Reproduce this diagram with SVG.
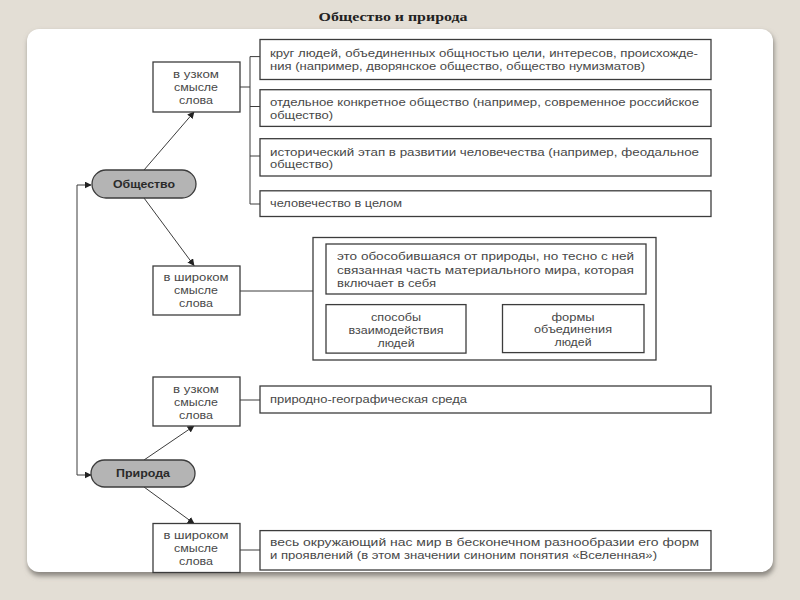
<svg xmlns="http://www.w3.org/2000/svg" width="800" height="600" viewBox="0 0 800 600">
<defs>
<style>
.t{font-family:"Liberation Sans","DejaVu Sans",sans-serif;font-size:10.5px;fill:#484848;}
.c{text-anchor:middle;}
.b{fill:#fff;stroke:#3c3c3c;stroke-width:1.3;}
.ln{fill:none;stroke:#3c3c3c;stroke-width:1;}
.ov{fill:#b4b4b4;stroke:#3c3c3c;stroke-width:1.3;}
.ot{font-family:"Liberation Sans","DejaVu Sans",sans-serif;font-size:11.5px;font-weight:bold;fill:#2a2a2a;text-anchor:middle;}
</style>
<marker id="ar" viewBox="0 0 10 10" refX="9" refY="5" markerWidth="7" markerHeight="7" markerUnits="userSpaceOnUse" orient="auto">
<path d="M0,0 L10,5 L0,10 z" fill="#222"/>
</marker>
<filter id="sh" x="-5%" y="-5%" width="110%" height="110%">
<feGaussianBlur stdDeviation="2.5"/>
</filter>
</defs>
<rect x="0" y="0" width="800" height="600" fill="#e3ded5"/>
<text x="393" y="21" text-anchor="middle" textLength="149" lengthAdjust="spacingAndGlyphs" font-family="'Liberation Serif',serif" font-weight="bold" font-size="13" fill="#222">Общество и природа</text>
<rect x="28" y="32" width="746" height="544" rx="12" fill="#8a8680" filter="url(#sh)"/>
<rect x="27" y="29" width="746" height="543" rx="12" fill="#ffffff"/>

<g id="connectors">
<polyline class="ln" points="240,87 250,87"/>
<polyline class="ln" points="260,56.6 250,56.6 250,204 260,204"/>
<polyline class="ln" points="250,106.5 260,106.5"/>
<polyline class="ln" points="250,156 260,156"/>
<polyline class="ln" points="240,291 313,291"/>
<polyline class="ln" points="240,400 260,400"/>
<polyline class="ln" points="240,550 260,550"/>
<line class="ln" x1="144" y1="170" x2="194" y2="112" marker-end="url(#ar)"/>
<line class="ln" x1="144" y1="198" x2="194" y2="265.5" marker-end="url(#ar)"/>
<line class="ln" x1="144" y1="460" x2="194" y2="426" marker-end="url(#ar)"/>
<line class="ln" x1="144" y1="487" x2="194" y2="523.5" marker-end="url(#ar)"/>
<path class="ln" d="M77,330 V185 H91" marker-end="url(#ar)"/>
<path class="ln" d="M77,330 V475 H91" marker-end="url(#ar)"/>
<line class="ln" x1="474" y1="294" x2="398" y2="303.5" marker-end="url(#ar)"/>
<line class="ln" x1="500" y1="294" x2="574" y2="303.5" marker-end="url(#ar)"/>
</g>

<g id="obshchestvo">
<rect class="ov" x="92" y="170" width="104" height="28" rx="14"/>
<text class="ot" x="144" y="188" textLength="62" lengthAdjust="spacingAndGlyphs">Общество</text>
</g>
<g id="priroda">
<rect class="ov" x="91" y="460" width="104" height="27" rx="13.5"/>
<text class="ot" x="143" y="477" textLength="54" lengthAdjust="spacingAndGlyphs">Природа</text>
</g>

<g id="o-narrow">
<rect class="b" x="153" y="62" width="87" height="50"/>
<text class="t c" x="196" y="78" textLength="46" lengthAdjust="spacingAndGlyphs">в узком</text>
<text class="t c" x="196" y="91" textLength="44" lengthAdjust="spacingAndGlyphs">смысле</text>
<text class="t c" x="196" y="104" textLength="34" lengthAdjust="spacingAndGlyphs">слова</text>
</g>
<g id="o-n1">
<rect class="b" x="260" y="39.5" width="451" height="40"/>
<text class="t" x="270" y="57" textLength="428" lengthAdjust="spacingAndGlyphs">круг людей, объединенных общностью цели, интересов, происхожде-</text>
<text class="t" x="270" y="69.5" textLength="375" lengthAdjust="spacingAndGlyphs">ния (например, дворянское общество, общество нумизматов)</text>
</g>
<g id="o-n2">
<rect class="b" x="260" y="89.7" width="451" height="36.7"/>
<text class="t" x="270" y="106" textLength="429" lengthAdjust="spacingAndGlyphs">отдельное конкретное общество (например, современное российское</text>
<text class="t" x="270" y="118.5" textLength="63" lengthAdjust="spacingAndGlyphs">общество)</text>
</g>
<g id="o-n3">
<rect class="b" x="260" y="138.7" width="451" height="37.3"/>
<text class="t" x="270" y="156" textLength="429" lengthAdjust="spacingAndGlyphs">исторический этап в развитии человечества (например, феодальное</text>
<text class="t" x="270" y="168.3" textLength="63" lengthAdjust="spacingAndGlyphs">общество)</text>
</g>
<g id="o-n4">
<rect class="b" x="260" y="190.8" width="451" height="25.7"/>
<text class="t" x="270" y="207.3" textLength="132" lengthAdjust="spacingAndGlyphs">человечество в целом</text>
</g>

<g id="o-wide">
<rect class="b" x="153" y="266" width="87" height="49"/>
<text class="t c" x="196" y="281" textLength="65" lengthAdjust="spacingAndGlyphs">в широком</text>
<text class="t c" x="196" y="294" textLength="44" lengthAdjust="spacingAndGlyphs">смысле</text>
<text class="t c" x="196" y="307" textLength="34" lengthAdjust="spacingAndGlyphs">слова</text>
</g>
<g id="o-wide-frame">
<rect class="b" x="313" y="237.5" width="343" height="122.5"/>
</g>
<g id="o-wide-def">
<rect class="b" x="326" y="244" width="320" height="50"/>
<text class="t" x="337" y="260" textLength="297" lengthAdjust="spacingAndGlyphs">это обособившаяся от природы, но тесно с ней</text>
<text class="t" x="337" y="273.8" textLength="297" lengthAdjust="spacingAndGlyphs">связанная часть материального мира, которая</text>
<text class="t" x="337" y="286.8" textLength="99" lengthAdjust="spacingAndGlyphs">включает в себя</text>
</g>
<g id="o-wide-ways">
<rect class="b" x="326" y="304.6" width="140" height="48.5"/>
<text class="t c" x="396" y="320.5" textLength="50" lengthAdjust="spacingAndGlyphs">способы</text>
<text class="t c" x="396" y="333.5" textLength="95" lengthAdjust="spacingAndGlyphs">взаимодействия</text>
<text class="t c" x="396" y="347" textLength="37" lengthAdjust="spacingAndGlyphs">людей</text>
</g>
<g id="o-wide-forms">
<rect class="b" x="502.5" y="304.6" width="141.5" height="48"/>
<text class="t c" x="573" y="320.5" textLength="43" lengthAdjust="spacingAndGlyphs">формы</text>
<text class="t c" x="573" y="332.6" textLength="78" lengthAdjust="spacingAndGlyphs">объединения</text>
<text class="t c" x="573" y="346" textLength="37" lengthAdjust="spacingAndGlyphs">людей</text>
</g>

<g id="p-narrow">
<rect class="b" x="153" y="377" width="87" height="49"/>
<text class="t c" x="196" y="392.6" textLength="46" lengthAdjust="spacingAndGlyphs">в узком</text>
<text class="t c" x="196" y="405.6" textLength="44" lengthAdjust="spacingAndGlyphs">смысле</text>
<text class="t c" x="196" y="419" textLength="34" lengthAdjust="spacingAndGlyphs">слова</text>
</g>
<g id="p-n1">
<rect class="b" x="260" y="386" width="451" height="27"/>
<text class="t" x="270" y="402.6" textLength="197" lengthAdjust="spacingAndGlyphs">природно-географическая среда</text>
</g>
<g id="p-wide">
<rect class="b" x="153" y="523.5" width="87" height="49"/>
<text class="t c" x="196" y="538.6" textLength="65" lengthAdjust="spacingAndGlyphs">в широком</text>
<text class="t c" x="196" y="551.6" textLength="44" lengthAdjust="spacingAndGlyphs">смысле</text>
<text class="t c" x="196" y="564.6" textLength="34" lengthAdjust="spacingAndGlyphs">слова</text>
</g>
<g id="p-w1">
<rect class="b" x="260" y="530.6" width="451" height="39.4"/>
<text class="t" x="270" y="546.3" textLength="429" lengthAdjust="spacingAndGlyphs">весь окружающий нас мир в бесконечном разнообразии его форм</text>
<text class="t" x="270" y="558.9" textLength="387" lengthAdjust="spacingAndGlyphs">и проявлений (в этом значении синоним понятия «Вселенная»)</text>
</g>
</svg>
